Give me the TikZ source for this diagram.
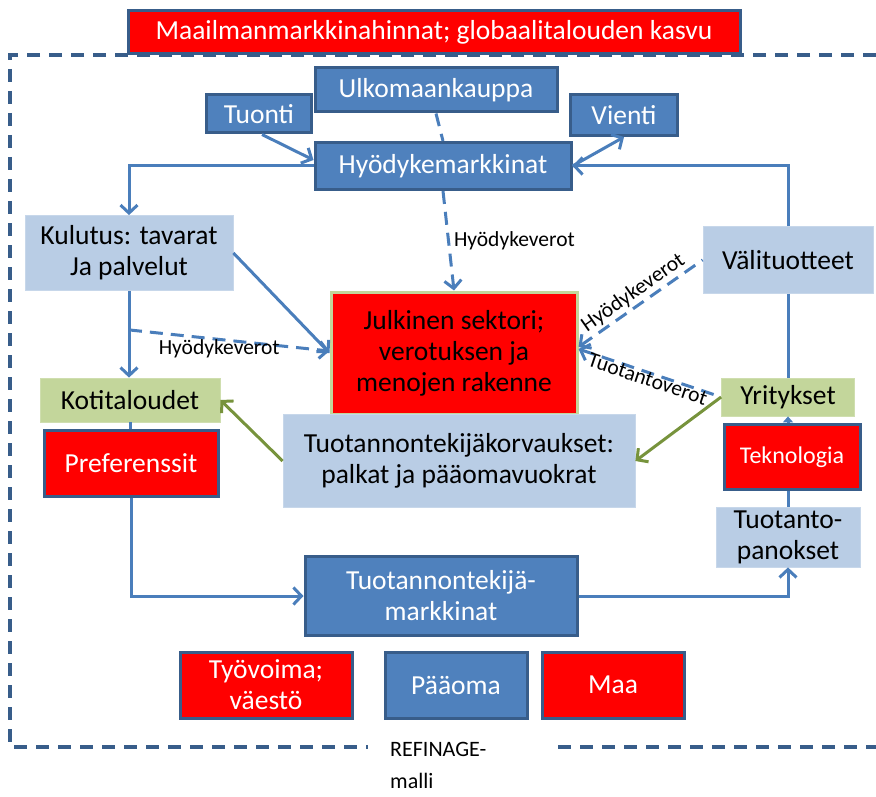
\documentclass[tikz,border=0pt]{standalone}
\usepackage{fontspec}
\setmainfont{Carlito}
\usepackage{xcolor}
\usepackage{tikz}
\usetikzlibrary{arrows.meta, positioning, calc}
\definecolor{boxblue}{HTML}{4F81BD}
\definecolor{edgeblue}{HTML}{385D8A}
\definecolor{lineblue}{HTML}{4A7EBB}
\definecolor{paleblue}{HTML}{B9CDE5}
\definecolor{palegreen}{HTML}{C3D69B}
\definecolor{paygreen}{HTML}{77933C}
\definecolor{hotred}{HTML}{FF0000}
\tikzset{
    base/.style={font=\fontsize{27.5}{31}\selectfont, align=center, inner sep=0pt, rectangle},
    darkblock/.style={base, fill=boxblue, draw=edgeblue, line width=3pt, text=white},
    redblock/.style={base, fill=hotred, draw=edgeblue, line width=3pt, text=white},
    paleblock/.style={base, fill=paleblue, draw=paleblue!80!white, line width=0.8pt, text=black},
    greenblock/.style={base, fill=palegreen, draw=palegreen!80!white, line width=0.8pt, text=black},
    label/.style={font=\fontsize{21.5}{24}\selectfont, text=black, inner sep=2pt},
    line/.style={draw=lineblue, line width=3pt},
    flow/.style={line, >={Straight Barb[length=8pt,width=17pt]}, ->},
    taxline/.style={flow, dash pattern=on 13pt off 8pt},
    pay/.style={draw=paygreen, line width=3pt, >={Straight Barb[length=8pt,width=17pt]}, ->},
    frame/.style={draw=edgeblue, line width=3.5pt, dash pattern=on 13pt off 9pt}
}
\begin{document}
\begin{tikzpicture}[x=1pt, y=-1pt]
    \useasboundingbox (0,0) rectangle (876,797);
    % outer dashed frame of the model
    \draw [frame] (876,55) -- (10,55) -- (10,747) -- (368,747);
    \draw [frame] (558,747) -- (876,747);
    \node [anchor=north west, font=\fontsize{22}{32}\selectfont, align=left, inner sep=0pt] (Model) at (390,742) {REFINAGE-\\malli};

    \node [redblock, minimum width=612pt, minimum height=43pt] (World) at (434,32) {Maailmanmarkkinahinnat; globaalitalouden kasvu};

    % goods side
    \node [darkblock, minimum width=242pt, minimum height=44pt] (Trade) at (436,90) {Ulkomaankauppa};
    \node [darkblock, minimum width=105pt, minimum height=38pt] (Import) at (259,114) {Tuonti};
    \node [darkblock, minimum width=107pt, minimum height=41pt] (Export) at (624,115) {Vienti};
    \node [darkblock, minimum width=256pt, minimum height=47pt] (Goods) at (443,166) {Hyödykemarkkinat};
    \node [paleblock, minimum width=208pt, minimum height=75pt] (Cons) at (129,253) {Kulutus: tavarat\\Ja palvelut};
    \node [paleblock, minimum width=170pt, minimum height=67pt] (Inter) at (788,260) {Välituotteet};
    \node [base, fill=hotred, draw=palegreen, line width=3pt, minimum width=246pt, minimum height=122pt] (Gov) at (454,353) {Julkinen sektori;\\verotuksen ja\\menojen rakenne};

    % agents
    \node [greenblock, minimum width=180pt, minimum height=44pt] (House) at (130,400) {Kotitaloudet};
    \node [greenblock, minimum width=133pt, minimum height=38pt] (Firms) at (788,397) {Yritykset};
    \node [redblock, minimum width=174pt, minimum height=66pt] (Pref) at (131,463) {Preferenssit};
    \node [paleblock, minimum width=352pt, minimum height=93pt] (Comp) at (459,461) {Tuotannontekijäkorvaukset:\\palkat ja pääomavuokrat};
    \node [redblock, minimum width=136pt, minimum height=65pt, font=\fontsize{24}{28}\selectfont] (Tech) at (792,457) {Teknologia};
    \node [paleblock, minimum width=144pt, minimum height=60pt] (Inputs) at (788,537) {Tuotanto-\\panokset};

    % factor side
    \node [darkblock, minimum width=272pt, minimum height=79pt] (FMkt) at (441,596) {Tuotannontekijä-\\markkinat};
    \node [redblock, minimum width=172pt, minimum height=66pt] (Labour) at (266,685) {Työvoima;\\väestö};
    \node [darkblock, minimum width=142pt, minimum height=66pt] (Capital) at (456,685) {Pääoma};
    \node [redblock, minimum width=142pt, minimum height=66pt] (Land) at (613,685) {Maa};

    % flows
    \draw [taxline, -] (Trade.south) -- (Goods.north);
    \draw [flow] ([xshift=3pt]Import.south) -- ([yshift=6pt]Goods.west);
    \draw [flow] (Goods.east) -- (Export.south);
    \draw [flow] (Goods.west) -| (Cons.north);
    \draw [flow] (Inter.north) |- (Goods.east);
    \draw [flow] (Cons.east) -- (Gov.west);
    \draw [flow] (Cons.south) -- (Cons.south |- House.north);
    \coordinate (Split) at ($(Cons.south)!0.45!(Cons.south |- House.north)$);
    \draw [taxline] (Split) -- node [label, pos=0.45, below=-3pt] {Hyödykeverot} ([yshift=2pt]Gov.west);
    \draw [taxline] (Goods.south) -- node [label, right=2pt] {Hyödykeverot} (Gov.north);
    \draw [taxline, <-] ([yshift=6pt]Gov.east) -- node [label, sloped, above=0pt] {Hyödykeverot} (Inter.west);
    \draw [taxline, <-] ([yshift=4pt]Gov.east) -- node [label, sloped, below=-4pt] {Tuotantoverot} (Firms.west);
    \draw [line] (Inter.south) -- (Firms.north);
    \draw [pay] (Firms.west) -- (Comp.east);
    \draw [pay] (Comp.west) -- (House.east);
    \draw [line] (House.south) -- (House.south |- Pref.north);
    \draw [flow] (Pref.south) |- (FMkt.west);
    \draw [flow] (FMkt.east) -| (Inputs.south);
    \draw [line] (Inputs.north) -- (Inputs.north |- Tech.south);
    \draw [line, -{Triangle[length=6pt,width=10pt]}] (Firms.south |- Tech.north) -- (Firms.south);
\end{tikzpicture}
\end{document}
